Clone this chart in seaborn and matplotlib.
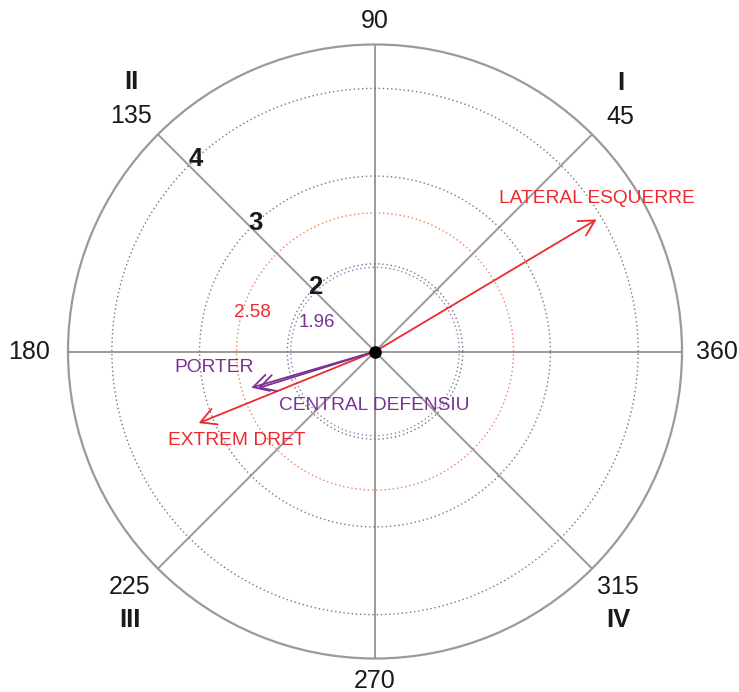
import numpy as np
import pandas as pd
import matplotlib
matplotlib.use("Agg")
import matplotlib.pyplot as plt
import seaborn as sns

# Vectors: angle in degrees, radial length
categories = ["LATERAL ESQUERRE", "EXTREM DRET", "PORTER", "CENTRAL DEFENSIU"]
angles = [30.8, 202.1, 196.3, 197.4]
lengths = [3.94, 3.17, 2.47, 2.40]
vector_colors = ["#EE2A2E", "#EE2A2E", "#7B3294", "#7B3294"]

# Reference circles
grid_circles = [2, 3, 4]
sig_circles = [1.96, 2.58]
sig_colors = ["#9B7BC4", "#F47C5E"]
sig_label_colors = ["#7B3294", "#EE2A2E"]

# Angular ticks and quadrants
theta_ticks = [45, 90, 135, 180, 225, 270, 315, 360]
quadrants = ["I", "II", "III", "IV"]

R_MIN, R_MAX = 1.0, 4.5

sns.set_theme(style="white")
plt.rcParams["font.family"] = ["Liberation Sans", "DejaVu Sans"]

fig = plt.figure(figsize=(7.39, 6.92), dpi=100)
ax = fig.add_axes([0.0920, 0.0484, 0.8309, 0.8873], projection="polar")
ax.set_rlim(R_MIN, R_MAX)
ax.set_facecolor("white")

# spokes every 45 degrees
ax.set_thetagrids(theta_ticks[:-1] + [0], labels=[""] * 8)
ax.xaxis.grid(True, color="#9a9a9a", lw=1.4, ls="-")
# dotted grid circles
ax.set_rgrids(grid_circles, labels=[""] * len(grid_circles))
ax.yaxis.grid(True, color="#777777", lw=1.0, ls=(0, (1, 2)))
ax.spines["polar"].set_color("#9a9a9a")
ax.spines["polar"].set_linewidth(1.6)
ax.tick_params(length=0)

# significance circles
th = np.linspace(0, 2 * np.pi, 400)
for val, col in zip(sig_circles, sig_colors):
    ax.plot(th, np.full_like(th, val), color=col, lw=1.0, ls=(0, (1, 2)))

# labels of the significance circles
ax.text(np.deg2rad(153), 1.74, "1.96", color=sig_label_colors[0], fontsize=13.5,
        ha="center", va="center")
ax.text(np.deg2rad(162.6), 2.47, "2.58", color=sig_label_colors[1], fontsize=13.5,
        ha="center", va="center")

# labels of the dotted grid circles along the 135 spoke
for val in grid_circles:
    ax.text(np.deg2rad(133), val, str(val), fontsize=18.5, fontweight="bold",
            color="#1a1a1a", ha="center", va="center")

# vectors
df = pd.DataFrame({"name": categories, "theta": np.deg2rad(angles), "r": lengths,
                   "color": vector_colors})
label_offsets = {"LATERAL ESQUERRE": (0, 21), "EXTREM DRET": (38, -17),
                 "PORTER": (-37, 20), "CENTRAL DEFENSIU": (116, -17)}
for _, row in df.iterrows():
    ax.annotate("", xy=(row["theta"], row["r"]), xytext=(0, R_MIN),
                arrowprops=dict(arrowstyle="->,head_length=0.55,head_width=0.3",
                                color=row["color"], lw=1.3, shrinkA=0, shrinkB=0,
                                mutation_scale=20))
    ax.annotate(row["name"], xy=(row["theta"], row["r"]),
                xytext=label_offsets[row["name"]],
                textcoords="offset pixels", color=row["color"], fontsize=13.8,
                ha="center", va="center", annotation_clip=False)

# centre point
sns.scatterplot(x=[0.0], y=[R_MIN], ax=ax, color="black", s=70, zorder=5,
                edgecolor="black", legend=False)

# angle labels around the circle
tick_pos = {45: (43.7, 4.875), 90: (90, 4.77), 135: (136.0, 4.86),
            180: (180, 4.94), 225: (223.9, 4.88), 270: (270, 4.76),
            315: (315.9, 4.86), 360: (0, 4.90)}
for t in theta_ticks:
    a, r = tick_pos[t]
    ax.text(np.deg2rad(a), r, str(t), fontsize=18, color="#1a1a1a",
            ha="center", va="center", clip_on=False)

# quadrant numerals above/below the diagonal labels
quad_pos = {"I": (45, 34), "II": (135, 34), "III": (225, -33), "IV": (315, -33)}
for q in quadrants:
    t, dy = quad_pos[q]
    a, r = tick_pos[t]
    ax.annotate(q, xy=(np.deg2rad(a), r), xytext=(0, dy), textcoords="offset pixels",
                fontsize=18.5, fontweight="bold", color="#1a1a1a",
                ha="center", va="center", annotation_clip=False)

ax.set_xlabel("")
ax.set_ylabel("")
fig.savefig("out.png", dpi=100, facecolor="white")
